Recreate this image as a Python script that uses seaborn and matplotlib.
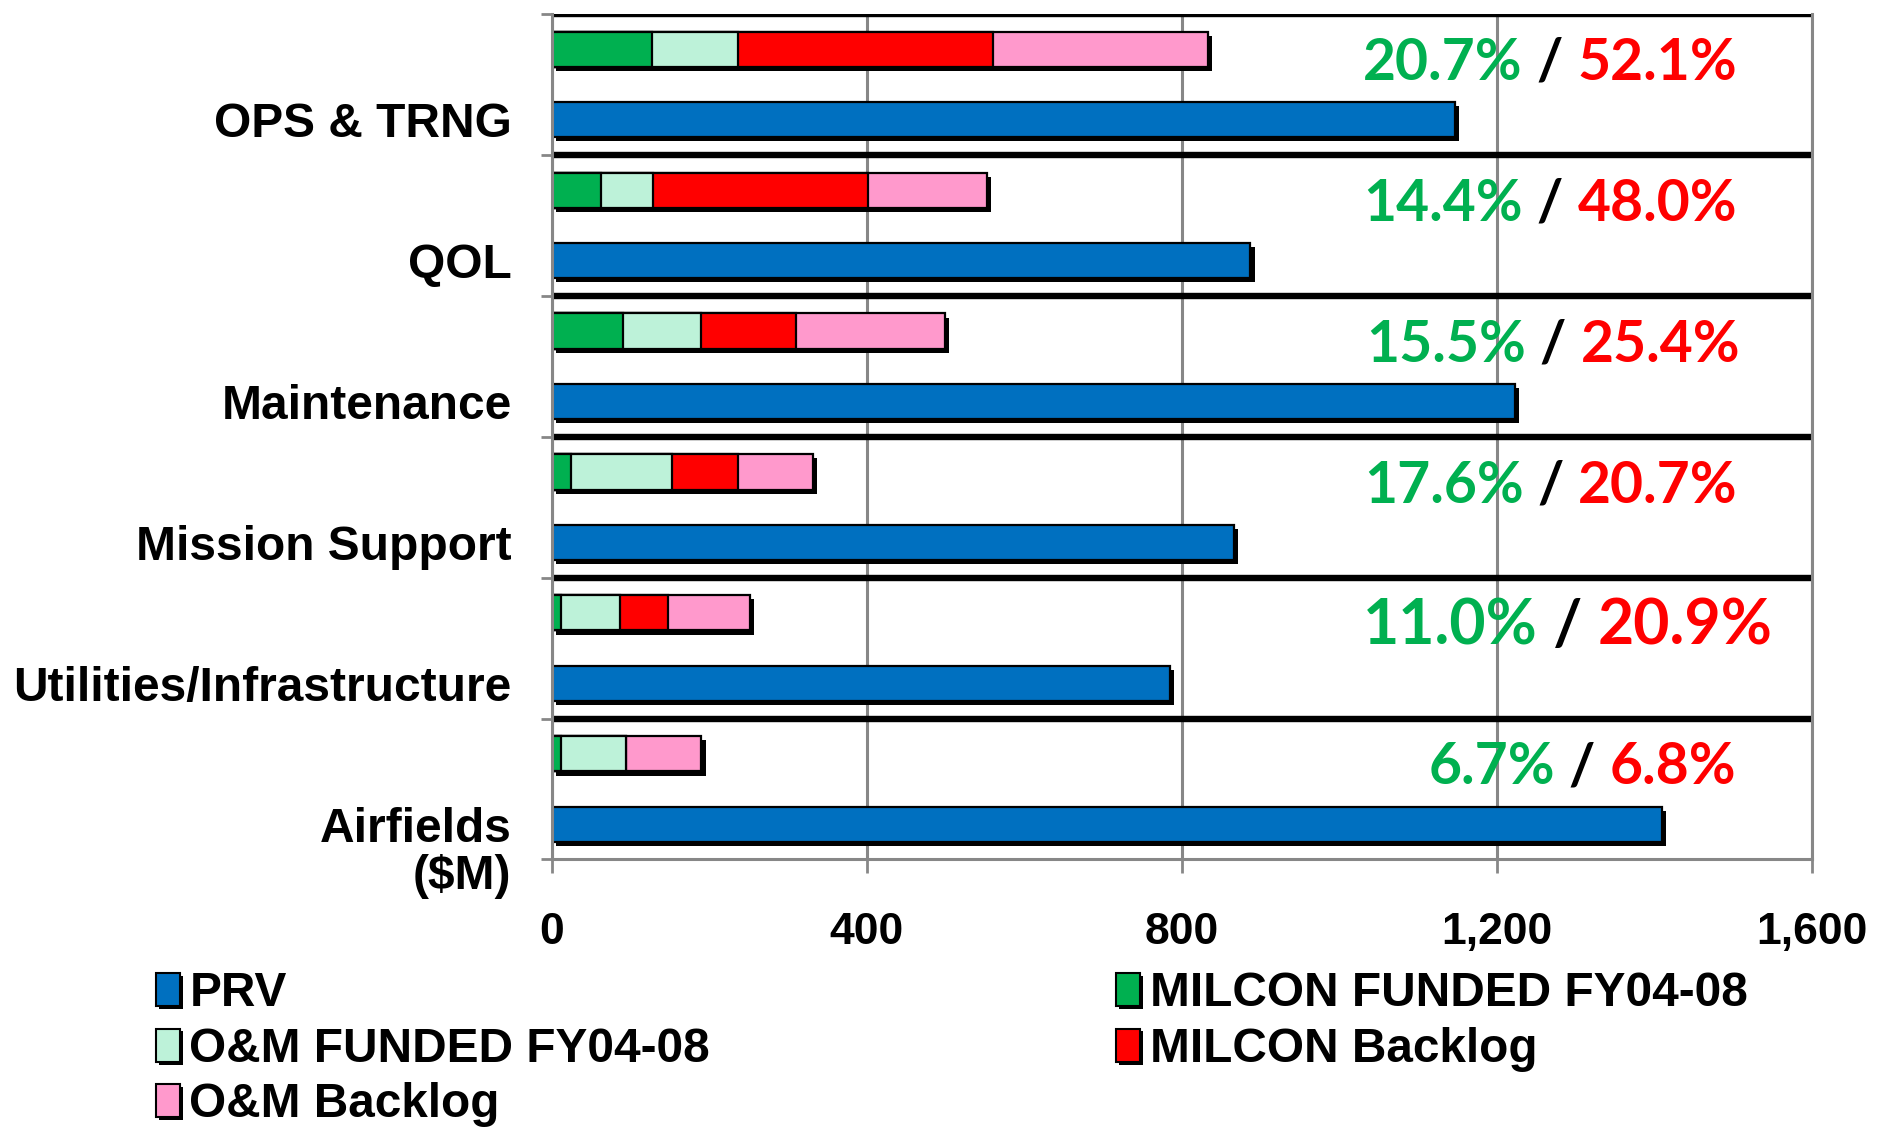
import numpy as np
import pandas as pd
import matplotlib
matplotlib.use("Agg")
import matplotlib.pyplot as plt
import matplotlib.transforms as mtransforms
from matplotlib import patheffects as pe
from matplotlib.patches import Patch
import seaborn as sns

# ---------------- data ----------------
categories = ["OPS & TRNG", "QOL", "Maintenance", "Mission Support",
              "Utilities/Infrastructure", "Airfields"]
prv = [1147, 887, 1223, 866, 785, 1410]
milcon_funded = [127, 62, 90, 24, 11, 11]
om_funded = [109, 66, 100, 128, 75, 83]
milcon_backlog = [324, 274, 120, 84, 61, 0]
om_backlog = [273, 150, 189, 95, 104, 96]
funded_pct = ["20.7%", "14.4%", "15.5%", "17.6%", "11.0%", "6.7%"]
backlog_pct = ["52.1%", "48.0%", "25.4%", "20.7%", "20.9%", "6.8%"]
xticks = [0, 400, 800, 1200, 1600]
xtick_labels = ["0", "400", "800", "1,200", "1,600"]
unit_label = "($M)"

# ---------------- style ----------------
sns.set_style("white")
plt.rcParams["font.family"] = ["Liberation Sans", "DejaVu Sans"]
plt.rcParams["font.weight"] = "bold"
plt.rcParams["text.color"] = "black"
plt.rcParams["xtick.labelcolor"] = "black"
plt.rcParams["ytick.labelcolor"] = "black"
plt.rcParams["axes.labelcolor"] = "black"

C_PRV = "#0070C0"
C_MF = "#00B050"
C_OF = "#BDF2D9"
C_MB = "#FF0000"
C_OB = "#FF99CC"
GRID = "#878787"
PCT_GREEN = "#00B050"
PCT_RED = "#FF0000"

shadow = [pe.SimplePatchShadow(offset=(3, -3), shadow_rgbFace="black", alpha=1.0), pe.Normal()]

fig = plt.figure(figsize=(18.77, 11.27), dpi=100)
ax = fig.add_axes([0.294, 0.2374, 0.6713, 0.7502])

hue_order = ["stack", "PRV"]


def draw(values, row, color, with_shadow):
    df = pd.DataFrame({"cat": categories, "value": values, "row": row})
    n0 = len(ax.patches)
    sns.barplot(data=df, y="cat", x="value", hue="row", hue_order=hue_order,
                order=categories, palette={"stack": color, "PRV": color},
                dodge=True, width=1.0, gap=0.5, orient="h", saturation=1,
                edgecolor="black", linewidth=1.6, errorbar=None,
                legend=False, ax=ax)
    if with_shadow:
        for p in ax.patches[n0:]:
            p.set_path_effects(shadow)


cum1 = np.array(milcon_funded)
cum2 = cum1 + np.array(om_funded)
cum3 = cum2 + np.array(milcon_backlog)
cum4 = cum3 + np.array(om_backlog)

draw(prv, "PRV", C_PRV, True)
draw(cum4, "stack", C_OB, True)
draw(cum3, "stack", C_MB, False)
draw(cum2, "stack", C_OF, False)
draw(cum1, "stack", C_MF, False)

# ---------------- axes ----------------
ax.set_xlim(0, 1600)
ax.set_ylim(5.5, -0.5)
ax.set_xlabel("")
ax.set_ylabel("")
ax.set_axisbelow(True)
ax.grid(axis="x", color=GRID, lw=2.2)
ax.grid(axis="y", visible=False)

for b in np.arange(-0.5, 5.0, 1.0):
    ax.axhline(b, color="black", lw=4.6, zorder=0.9)

for s in ["left", "bottom", "right"]:
    ax.spines[s].set_color(GRID)
    ax.spines[s].set_linewidth(2.2)
ax.spines["top"].set_visible(False)

ax.set_xticks(xticks)
ax.set_xticklabels(xtick_labels)
ax.tick_params(axis="x", length=10, width=2, color=GRID, pad=28,
               labelsize=32, direction="out", bottom=True, labelcolor="black")

ax.set_yticks(np.arange(-0.5, 6.0, 1.0))
ax.set_yticklabels([])
ax.set_yticks(np.arange(len(categories)) + 0.25, minor=True)
ax.set_yticklabels(categories, minor=True)
ax.tick_params(axis="y", which="major", length=8, width=2, color=GRID,
               direction="out", left=True)
ax.tick_params(axis="y", which="minor", length=0, pad=29, labelsize=34.5,
               labelcolor="black")

trans = mtransforms.blended_transform_factory(ax.transAxes, ax.transData)
ax.text(-0.0325, 5.62, unit_label, transform=trans, ha="right", va="center",
        fontsize=34.5, fontweight="bold", color="black")

# ---------------- percentage annotations ----------------
pct_x = [1505, 1505, 1509, 1506, 1550, 1504]
pct_size = [41, 41, 41, 41, 45, 41]
for i in range(len(categories)):
    kw = dict(fontsize=pct_size[i], fontweight="bold", family=["Lato", "DejaVu Sans"])
    t_red = ax.text(pct_x[i], i - 0.15, backlog_pct[i], color=PCT_RED,
                    ha="right", va="center", **kw)
    t_sl = ax.annotate(" / ", xy=(0, 0), xycoords=t_red, ha="right",
                       va="bottom", color="black", **kw)
    ax.annotate(funded_pct[i], xy=(0, 0), xycoords=t_sl, ha="right",
                va="bottom", color=PCT_GREEN, **kw)

# ---------------- legend ----------------
def h(c, lab):
    return Patch(facecolor=c, edgecolor="black", linewidth=1.5, label=lab,
                 path_effects=[pe.SimplePatchShadow(offset=(2, -2), shadow_rgbFace="black", alpha=1.0), pe.Normal()])

leg_kw = dict(loc="upper left", frameon=False, handlelength=0.5,
              handleheight=0.7, handletextpad=0.2, labelspacing=0.22,
              borderaxespad=0, borderpad=0,
              prop={"family": "Liberation Sans", "weight": "bold", "size": 34.4})
fig.legend(handles=[h(C_PRV, "PRV"), h(C_OF, "O&M FUNDED FY04-08"),
                    h(C_OB, "O&M Backlog")],
           bbox_to_anchor=(0.0831, 0.138), labelcolor="black", **leg_kw)
fig.legend(handles=[h(C_MF, "MILCON FUNDED FY04-08"), h(C_MB, "MILCON Backlog")],
           bbox_to_anchor=(0.5946, 0.138), labelcolor="black", **leg_kw)

fig.savefig("out.png", dpi=100)
